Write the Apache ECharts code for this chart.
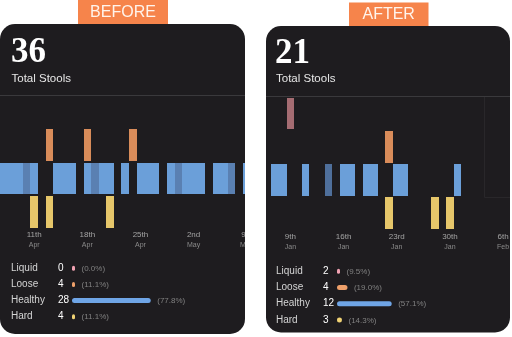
<!DOCTYPE html>
<html>
<head>
<meta charset="utf-8">
<script src="https://cdn.jsdelivr.net/npm/echarts@6/dist/echarts.min.js"></script>
<style>
  html, body { margin: 0; padding: 0; background: #ffffff; }
  #chart { width: 512px; height: 337px; }
</style>
</head>
<body>
<div id="chart"></div>
<script>
// Stool types, top row first
const stoolTypes = ['Liquid', 'Loose', 'Healthy', 'Hard'];

// ---- BEFORE period (visible window Apr 7 – May 9) ----
const beforeStart = '2024-04-07';
const beforeDayCount = 33;
const beforeLiquid = [];
const beforeLoose = ['04-13', '04-18', '04-24'];
const beforeHealthy = ['04-07', '04-08', '04-09', '04-10', '04-11', '04-14', '04-15', '04-16',
  '04-18', '04-19', '04-20', '04-21', '04-23', '04-25', '04-26', '04-27', '04-29', '04-30',
  '05-01', '05-02', '05-03', '05-05', '05-06', '05-07', '05-09'];
const beforeHealthyMuted = ['04-10', '04-19', '04-30', '05-07'];
const beforeHard = ['04-11', '04-13', '04-21'];
const beforeTicks = ['04-11', '04-18', '04-25', '05-02', '05-09'];
const beforeTickLabels = ['11th\nApr', '18th\nApr', '25th\nApr', '2nd\nMay', '9th\nMay'];
const beforeCounts = [0, 4, 28, 4];

// ---- AFTER period (visible window Jan 7 – Feb 6) ----
const afterStart = '2024-01-07';
const afterDayCount = 31;
const afterLiquid = ['01-09'];
const afterLoose = ['01-22'];
const afterHealthy = ['01-07', '01-08', '01-11', '01-14', '01-16', '01-17', '01-19', '01-20',
  '01-23', '01-24', '01-31'];
const afterHealthyMuted = ['01-14'];
const afterHard = ['01-22', '01-28', '01-30'];
const afterTicks = ['01-09', '01-16', '01-23', '01-30', '02-06'];
const afterTickLabels = ['9th\nJan', '16th\nJan', '23rd\nJan', '30th\nJan', '6th\nFeb'];
const afterCounts = [2, 4, 12, 3];

// ---- styling ----
const FONT = '"Liberation Sans", Arial, sans-serif';
const CARD_BG = '#1e1c1f';
const ACCENT = '#f6844b';
const cellColors = ['#a56c72', '#d98c5a', '#6b9fd9', '#e6c66a'];
const cellMuted = { before: '#5a80b2', after: '#4f6f9b' };
const meterColors = ['#f0a2b2', '#eea06a', '#6fa5e6', '#f0d274'];
const meterMin = 10;
const meterMax = 100;

function dayRange(start, n) {
  const out = [];
  const t0 = Date.parse(start + 'T00:00:00Z');
  for (let i = 0; i < n; i++) {
    const d = new Date(t0 + i * 86400000);
    out.push(String(d.getUTCMonth() + 1).padStart(2, '0') + '-' + String(d.getUTCDate()).padStart(2, '0'));
  }
  return out;
}

function cellData(days, rows, muted) {
  const data = [];
  rows.forEach(function (list, r) {
    list.forEach(function (d) {
      const isMuted = r === 2 && muted.indexOf(d) >= 0 ? 1 : 0;
      data.push([days.indexOf(d), r, isMuted]);
    });
  });
  return data;
}

// one day-cell per entry; edges snapped to whole pixels so consecutive days merge cleanly
function cellRenderer(mutedColor) {
  return function (params, api) {
    const c = api.coord([api.value(0), api.value(1)]);
    const w = api.size([1, 0])[0];
    const h = api.size([0, 1])[1];
    const row = api.value(1);
    const x0 = Math.round(c[0] - w / 2);
    const x1 = Math.round(c[0] + w / 2);
    const y0 = Math.round(c[1] - h / 2 + 0.5);
    const y1 = Math.round(c[1] + h / 2 - 1);
    return {
      type: 'rect',
      shape: { x: x0, y: y0, width: x1 - x0, height: y1 - y0 },
      style: { fill: api.value(2) ? mutedColor : cellColors[row] }
    };
  };
}

function meterRenderer(params, api) {
  const pct = api.value(0);
  const row = api.value(1);
  const a = api.coord([meterMin, row]);
  const b = api.coord([Math.max(pct, meterMin), row]);
  const len = Math.max(b[0] - a[0], 3);
  return {
    type: 'group',
    children: [
      { type: 'rect', shape: { x: a[0], y: a[1] - 2.5, width: len, height: 5, r: 2.5 },
        style: { fill: meterColors[row] } },
      { type: 'text', style: { x: a[0] + len + 6.5, y: a[1] + 0.5, text: '(' + pct.toFixed(1) + '%)',
        fill: '#808080', font: '8px ' + FONT, align: 'left', verticalAlign: 'middle' } }
    ]
  };
}

function percents(counts) {
  const total = counts.reduce(function (s, v) { return s + v; }, 0);
  return counts.map(function (v, i) { return [total ? Math.round(v / total * 1000) / 10 : 0, i]; });
}

function tickAxis(gridIndex, days, ticks, labels) {
  return {
    type: 'category', gridIndex: gridIndex, data: days, boundaryGap: true,
    axisLine: { show: false }, axisTick: { show: false }, splitLine: { show: false },
    axisLabel: {
      margin: 1,
      interval: function (i, v) { return ticks.indexOf(v) >= 0; },
      formatter: function (v) {
        const parts = labels[ticks.indexOf(v)].split('\n');
        return '{d|' + parts[0] + '}\n{m|' + parts[1] + '}';
      },
      rich: {
        d: { fontFamily: FONT, fontSize: 8, color: '#a3a3a3', lineHeight: 11 },
        m: { fontFamily: FONT, fontSize: 7, color: '#8a8a8a', lineHeight: 10 }
      }
    }
  };
}

function rowAxis(gridIndex, counts, withLabels) {
  return {
    type: 'category', gridIndex: gridIndex, data: stoolTypes, inverse: true,
    axisLine: { show: false }, axisTick: { show: false }, splitLine: { show: false },
    axisLabel: withLabels ? {
      align: 'left', margin: 61,
      formatter: function (v, i) { return '{n|' + v + '}{c|' + counts[i] + '}'; },
      rich: {
        n: { fontFamily: FONT, fontSize: 10, color: '#d4d4d4', width: 47 },
        c: { fontFamily: FONT, fontSize: 10, color: '#ffffff' }
      }
    } : { show: false }
  };
}

const beforeDays = dayRange(beforeStart, beforeDayCount);
const afterDays = dayRange(afterStart, afterDayCount);
const beforeTotal = beforeCounts.reduce(function (s, v) { return s + v; }, 0);
const afterTotal = afterCounts.reduce(function (s, v) { return s + v; }, 0);

const chart = echarts.init(document.getElementById('chart'), null, { renderer: 'canvas' });

chart.setOption({
  backgroundColor: '#ffffff',
  animation: false,
  grid: [
    { left: -6.9, top: 95.5, width: 257.4, height: 133 },
    { left: 271.4, top: 97, width: 243.7, height: 133.2 },
    { left: 72, top: 260.3, width: 104.5, height: 64.4 },
    { left: 337, top: 263, width: 104.5, height: 65 }
  ],
  xAxis: [
    tickAxis(0, beforeDays, beforeTicks, beforeTickLabels),
    tickAxis(1, afterDays, afterTicks, afterTickLabels),
    { type: 'value', gridIndex: 2, min: meterMin, max: meterMax, show: false },
    { type: 'value', gridIndex: 3, min: meterMin, max: meterMax, show: false }
  ],
  yAxis: [
    rowAxis(0, beforeCounts, false),
    rowAxis(1, afterCounts, false),
    rowAxis(2, beforeCounts, true),
    rowAxis(3, afterCounts, true)
  ],
  series: [
    { type: 'custom', xAxisIndex: 0, yAxisIndex: 0, renderItem: cellRenderer(cellMuted.before),
      data: cellData(beforeDays, [beforeLiquid, beforeLoose, beforeHealthy, beforeHard], beforeHealthyMuted), z: 5 },
    { type: 'custom', xAxisIndex: 1, yAxisIndex: 1, renderItem: cellRenderer(cellMuted.after),
      data: cellData(afterDays, [afterLiquid, afterLoose, afterHealthy, afterHard], afterHealthyMuted), z: 5 },
    { type: 'custom', xAxisIndex: 2, yAxisIndex: 2, renderItem: meterRenderer,
      data: percents(beforeCounts), z: 5 },
    { type: 'custom', xAxisIndex: 3, yAxisIndex: 3, renderItem: meterRenderer,
      data: percents(afterCounts), z: 5 }
  ],
  graphic: [
    // cards
    { type: 'rect', z: -1, shape: { x: 0, y: 24, width: 245, height: 310, r: 15 }, style: { fill: CARD_BG } },
    { type: 'rect', z: -1, shape: { x: 266, y: 26, width: 244, height: 306.5, r: 15 }, style: { fill: CARD_BG } },
    // faint outline of the not-yet-logged days in the AFTER card
    { type: 'polyline', z: 1, shape: { points: [[484.5, 97], [484.5, 197.5], [510, 197.5]] },
      style: { stroke: '#29272a', lineWidth: 1, fill: null } },
    // period tags
    { type: 'rect', z: 1, shape: { x: 78, y: 0, width: 90, height: 24 }, style: { fill: ACCENT } },
    { type: 'text', z: 2, style: { x: 123, y: 13, text: 'BEFORE', fill: '#fff4ec', font: '16px ' + FONT, align: 'center', verticalAlign: 'middle' } },
    { type: 'rect', z: 1, shape: { x: 349, y: 2.5, width: 79.5, height: 23.5 }, style: { fill: ACCENT } },
    { type: 'text', z: 2, style: { x: 388.7, y: 15, text: 'AFTER', fill: '#fff4ec', font: '16px ' + FONT, align: 'center', verticalAlign: 'middle' } },
    // headline totals
    { type: 'text', z: 2, style: { x: 11, y: 52.5, text: String(beforeTotal), fill: '#ffffff', font: 'bold 35px "Liberation Serif", serif', verticalAlign: 'middle' } },
    { type: 'text', z: 2, style: { x: 11.5, y: 78.5, text: 'Total Stools', fill: '#e6e6e6', font: '11.5px ' + FONT, verticalAlign: 'middle' } },
    { type: 'text', z: 2, style: { x: 275, y: 53.5, text: String(afterTotal), fill: '#ffffff', font: 'bold 35px "Liberation Serif", serif', verticalAlign: 'middle' } },
    { type: 'text', z: 2, style: { x: 276, y: 79, text: 'Total Stools', fill: '#e6e6e6', font: '11.5px ' + FONT, verticalAlign: 'middle' } },
    // dividers
    { type: 'line', z: 2, shape: { x1: 0, y1: 95.5, x2: 245, y2: 95.5 }, style: { stroke: '#3a393c', lineWidth: 1 } },
    { type: 'line', z: 2, shape: { x1: 266, y1: 96.5, x2: 510, y2: 96.5 }, style: { stroke: '#3a393c', lineWidth: 1 } },
    // page gutters outside the cards
    { type: 'rect', z: 100, shape: { x: 245, y: 24, width: 21, height: 313 }, style: { fill: '#ffffff' } },
    { type: 'rect', z: 100, shape: { x: 510, y: 24, width: 2, height: 313 }, style: { fill: '#ffffff' } }
  ]
});
</script>
</body>
</html>
